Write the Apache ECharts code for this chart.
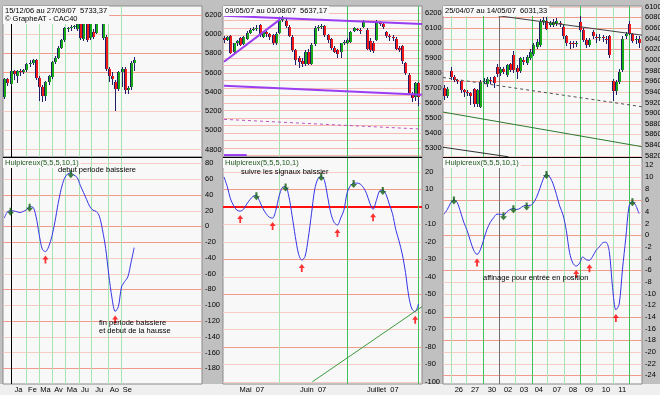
<!DOCTYPE html>
<html><head><meta charset="utf-8">
<script src="https://cdn.jsdelivr.net/npm/echarts@6/dist/echarts.min.js"></script>
<style>html,body{margin:0;padding:0;background:#c0c0c0;overflow:hidden}#c{width:660px;height:395px}</style>
</head><body><div id="c"></div>
<script>
// ---------- DATA ----------
// Top-left: weekly candles 15/12/06 -> 27/09/07 (x = week index)
const tlOpen  = [5350,5536,5484,5612,5560,5610,5605,5623,5690,5700,5727,5540,5450,5360,5500,5553,5705,5755,5856,5935,6050,6060,6070,6050,6127,5945,6110,5960,6025,6010,6125,5960,5970,5640,5560,5500,5430,5605,5640,5420,5450,5700];
const tlClose = [5536,5490,5612,5580,5610,5600,5625,5690,5700,5727,5540,5445,5360,5500,5560,5705,5755,5856,5935,6057,6060,6070,6085,6160,5955,6115,5940,6120,5965,6125,6130,6125,5640,5560,5530,5430,5605,5640,5420,5440,5700,5733];
const tlLow   = [5325,5460,5460,5520,5490,5560,5580,5600,5660,5680,5520,5300,5290,5300,5470,5530,5690,5740,5840,5920,6020,6030,6050,6035,5940,5930,5920,5940,5950,5995,6100,5940,5620,5500,5470,5200,5410,5450,5380,5380,5420,5620];
const tlHigh  = [5545,5545,5625,5630,5625,5640,5640,5700,5730,5740,5735,5560,5470,5510,5570,5720,5770,5870,5945,6070,6075,6090,6095,6175,6140,6125,6120,6135,6050,6135,6145,6150,5990,5660,5600,5520,5620,5660,5660,5460,5720,5760];
// Bottom-left oscillator (weekly)
const blOsc = [10.5,18.5,19.8,19.6,18.5,17.5,19,21,25,24.5,13,-10,-29,-32,-26,-13,6,29,48,61,66.5,67.5,65,62,52,43,34,25,20.5,19,13,-4.5,-28,-62,-91,-108,-102,-77,-70,-64,-46,-27];
const blPeaks = [2, 8, 21];
const blTroughs = [13, 35];
const blYearBound = [2.1];
const blMonthBounds = [6.85, 10.95, 15.05, 19.15, 23.55, 27.35, 32.7, 36.8];
const blMonthPos = [4.5, 8.9, 13.0, 17.1, 21.35, 25.45, 30.0, 34.75, 38.8];
const blMonthNames = ['Ja','Fe','Ma','Av','Ma','Ju','Ju','Ao','Se'];

// Top-middle: daily candles 09/05/07 -> 01/08/07 (x = trading day index)
const tmOpen  = [6030,6020,6047,5935,5995,6030,5990,6025,6067,6085,6092,6118,6040,6070,6055,6050,5995,6067,6150,6147,6107,6040,5950,5900,5880,5860,5940,5860,5990,6100,6105,6111,6050,6022,5962,5950,5935,5995,6000,6007,6080,6090,6085,6107,6085,6010,6000,6018,6130,6125,6070,6045,6040,6025,5965,5975,5862,5785,5660,5640,5730];
const tmClose = [6015,6035,5933,5995,6010,5985,6035,6065,6085,6092,6100,6050,6070,6055,6040,5995,6060,6150,6165,6110,6045,5950,5885,5870,5860,5940,5860,5985,6100,6105,6112,6050,6018,5962,5940,5925,5995,6005,6020,6073,6095,6088,6080,6140,5960,5950,5945,6130,6125,6105,6045,6040,6030,5960,5950,5875,5795,5667,5630,5730,5637];
const tmLow   = [6000,6010,5925,5920,5980,5975,5985,6015,6055,6075,6080,6040,6030,6040,6020,5985,5985,6055,6140,6100,6035,5940,5850,5830,5835,5845,5850,5850,5980,6080,6090,6040,6000,5950,5930,5900,5900,5985,5990,6000,6070,6075,6060,6100,5950,5940,5930,6010,6110,6090,6030,6010,6010,5950,5935,5860,5785,5655,5605,5610,5580];
const tmHigh  = [6045,6045,6050,6000,6020,6035,6045,6075,6095,6105,6115,6125,6080,6080,6065,6060,6070,6160,6175,6160,6115,6050,5960,5910,5895,5950,5960,5995,6110,6120,6125,6120,6060,6030,5975,5960,6000,6015,6030,6080,6105,6100,6095,6150,6095,6030,6010,6150,6145,6135,6080,6055,6050,6035,5975,5985,5870,5795,5670,5735,5735];
const tmRising  = [[0, 5873], [17.3, 6156]];
const tmTopLine = [[0, 6180], [61.1, 6125]];
const tmLowLine = [[0, 5713], [61.1, 5653]];
const tmDashed  = [[0, 5489], [61.1, 5424]];
const tmFrag    = [[0, 5251], [7, 5251]];
// Bottom-middle oscillator (daily)
const bmOsc = [17,11.5,4.5,0.5,-2,-2.5,-1.5,1.5,4,6,6.5,3,-1,-4,-6,-6.5,-2,6,11,11.5,6,-5,-17,-27,-30.5,-28.5,-18,-4,10,16,17.5,15,5.5,-4,-9,-10.5,-6.5,-2,8,12,13.5,13.5,13,11,7.5,2,-1.5,3.5,9,9.5,7,1.5,-4,-13,-19.5,-27,-37.5,-51,-58.5,-60,-55.5];
const bmPeaks = [10, 19, 30, 40, 49];
const bmTroughs = [5, 15, 24, 35, 46, 59];
const bmSupport = [[27.3, -100], [61.1, -57.1]];
const midLightBounds = [17];
const midDarkBounds = [38, 60];
const midMonthPos = [8.6, 27.5, 49.0];
const midMonthNames = ['Mai  07', 'Juin  07', 'Juillet  07'];

// Top-right: intraday candles 25/04/07 -> 14/05/07 (x = bar index)
const trOpen  = [5948,5932,5979,5967,5962,5960,5943,5940,5938,5945,5918,5912,5959,5955,5963,5968,5987,5975,5982,5972,5992,6009,5985,5980,6000,5995,6003,6012,6025,6028,6072,6074,6066,6066,6068,6070,6062,6044,6032,6031,6030,6072,6056,6038,6028,6052,6043,6042,6043,6040,6044,5960,5942,5959,5981,6044,6067,6048,6038,6039];
const trClose = [5932,5946,5967,5962,5960,5943,5940,5938,5932,5918,5944,5959,5961,5965,5960,5956,5973,5982,5978,5990,5981,5981,5978,6003,5996,6005,6015,6028,6034,6072,6075,6059,6070,6072,6074,6068,6044,6031,6030,6030,6032,6056,6037,6028,6038,6045,6042,6043,6041,6038,6009,5942,5958,5978,6040,6049,6049,6036,6040,6031];
const trLow   = [5925,5928,5962,5958,5955,5938,5930,5932,5915,5912,5912,5910,5955,5950,5955,5948,5968,5970,5974,5968,5978,5975,5965,5975,5990,5990,6000,6008,6020,6025,6066,6056,6062,6062,6064,6062,6040,6026,6020,6022,6024,6052,6034,6022,6025,6040,6032,6036,6034,6030,6004,5922,5935,5955,5978,6040,6046,6032,6030,6022];
const trHigh  = [5952,5950,5986,5972,5965,5962,5946,5944,5940,5948,5946,5962,5966,5968,5967,5970,5992,5986,5986,5993,5995,6016,5990,6005,6005,6010,6020,6032,6040,6076,6080,6080,6074,6076,6078,6074,6066,6046,6036,6036,6036,6082,6060,6042,6042,6056,6048,6048,6046,6044,6046,5964,5962,5982,6044,6052,6074,6050,6045,6044];
const trResist = [[16.4, 6083], [59.9, 6046.5]];
const trDotted = [[-0.3, 5967], [59.9, 5912]];
const trGreen  = [[-0.3, 5902], [59.9, 5837]];
const trLowLn  = [[-0.3, 5836], [19.5, 5818]];
// Bottom-right oscillator
const brOsc = [3.6,4.4,5.5,6.1,5.6,4.0,2.2,0.8,-1.0,-2.6,-3.3,-2.5,-0.8,1.0,2.2,3.0,3.6,3.6,3.4,4.0,4.4,4.6,4.4,4.6,5.0,5.1,5.1,5.5,6.5,8.0,9.6,10.5,10.0,8.8,7.0,5.0,3.5,0.8,-3.0,-4.8,-5.3,-4.8,-3.7,-4.2,-4.3,-3.6,-2.6,-2.0,-1.3,-1.2,-2.8,-9.0,-12.8,-11.8,-5.8,-0.5,5.0,5.8,5.1,3.7];
const brPeaks = [3, 18, 21, 25, 31, 57];
const brTroughs = [10, 40, 44, 52];
const brLightBounds = [2.0, 6.65, 21.45, 31.2, 36.3, 46.1, 51.2];
const brDarkBounds = [11.7, 26.5, 41.1, 56.0];
const brMonthBound = [16.7];
const brDayPos = [4.5, 9.4, 14.5, 19.4, 24.2, 28.7, 34.2, 39.0, 43.9, 49.0, 53.9];
const brDayNames = ['26','27','30','02','03','04','07','08','09','10','11'];

// Y tick labels
const tlTicks = [4800,5000,5200,5400,5600,5800,6000,6200];
const tmTicks = [5300,5400,5500,5600,5700,5800,5900,6000,6100,6200];
const trTicks = [5820,5840,5860,5880,5900,5920,5940,5960,5980,6000,6020,6040,6060,6080,6100];
const blTicks = [-180,-160,-140,-120,-100,-80,-60,-40,-20,0,20,40,60,80];
const bmTicks = [-100,-90,-80,-70,-60,-50,-40,-30,-20,-10,0,10,20];
const brTicks = [-24,-22,-20,-18,-16,-14,-12,-10,-8,-6,-4,-2,0,2,4,6,8,10,12];
// Horizontal grid lines
const tlDark = [6200,5800,5600], tlLight = [6000,5400,5200,5000,4800];
const tmGridLines = [5250,5300,5350,5400,5450,5500,5550,5600,5650,5700,5750,5800,5850,5900,5950,6000,6050,6100,6150,6200];
const trDark = [6080,6060,6020,5960], trLight = [6100,6040,6000,5980,5940,5920,5900,5880,5860,5840,5820];
const blDark = [40,0,-20,-80,-120,-180], blLight = [80,60,20,-40,-60,-100,-140,-160];
const bmZero = [0], bmDark = [10,-30,-50,-80], bmLight = [20,-10,-20,-40,-60,-70,-90,-100];
const brDark = [6,0,-6,-14,-18,-24], brLight = [12,10,8,4,2,-2,-4,-8,-10,-12,-16,-20,-22];

// ---------- HELPERS ----------
const FONT = '"Liberation Sans", Arial, sans-serif';
const FS = 7.5;
const C_DARK = '#f29a8c', C_LIGHT = '#f8cbc4', C_MID = '#f6bcb3';
const G_LIGHT = '#a6e3b0', G_DARK = '#3ec25c';

function hLines(gi, values, color, width) {
  return {
    type: 'custom', xAxisIndex: gi, yAxisIndex: gi, silent: true, z: 1, clip: true, animation: false,
    data: values.map(v => [0, v]),
    renderItem(params, api) {
      const cs = params.coordSys;
      const y = Math.round(api.coord([0, api.value(1)])[1]) + (width % 2 ? 0.5 : 0);
      return {type: 'line', shape: {x1: cs.x, y1: y, x2: cs.x + cs.width, y2: y}, style: {stroke: color, lineWidth: width}};
    }
  };
}
function vLines(gi, values, color, width) {
  return {
    type: 'custom', xAxisIndex: gi, yAxisIndex: gi, silent: true, z: 1, clip: true, animation: false,
    data: values.map(v => [v, 0]),
    renderItem(params, api) {
      const cs = params.coordSys;
      const x = Math.round(api.coord([api.value(0), 0])[0]) + 0.5;
      return {type: 'line', shape: {x1: x, y1: cs.y, x2: x, y2: cs.y + cs.height}, style: {stroke: color, lineWidth: width}};
    }
  };
}
function candleItem(params, api) {
  const x = api.value(0), o = api.value(1), c = api.value(2), lo = api.value(3), hi = api.value(4);
  const pO = api.coord([x, o]), pC = api.coord([x, c]);
  const yL = api.coord([x, lo])[1], yH = api.coord([x, hi])[1];
  const px = Math.round(pO[0]);
  const top = Math.round(Math.min(pO[1], pC[1]));
  const h = Math.max(1, Math.round(Math.max(pO[1], pC[1])) - top);
  const up = c >= o;
  return {type: 'group', children: [
    {type: 'line', shape: {x1: px + 0.5, y1: Math.round(yH), x2: px + 0.5, y2: Math.round(yL)}, style: {stroke: '#1e1e66', lineWidth: 1}},
    {type: 'rect', shape: {x: px - 1, y: top, width: 3, height: h}, style: {fill: up ? '#18a818' : '#f01818'}},
    {type: 'line', shape: {x1: px - 0.5, y1: top, x2: px - 0.5, y2: top + h}, style: {stroke: '#1e1e66', lineWidth: 1}}
  ]};
}
function candles(gi, o, c, l, h) {
  return {type: 'custom', xAxisIndex: gi, yAxisIndex: gi, z: 3, clip: true, silent: true, animation: false,
    data: o.map((v, i) => [i, o[i], c[i], l[i], h[i]]), renderItem: candleItem};
}
function seg(gi, pts, color, width, type) {
  return {type: 'line', xAxisIndex: gi, yAxisIndex: gi, data: pts, symbol: 'none', silent: true, z: 4,
    lineStyle: {color: color, width: width, type: type || 'solid'}, animation: false};
}
function osc(gi, vals) {
  return {type: 'line', xAxisIndex: gi, yAxisIndex: gi, data: vals.map((v, i) => [i, v]), symbol: 'none',
    smooth: 0.3, silent: true, z: 3, lineStyle: {color: '#3434e6', width: 1}, animation: false};
}
const ARROW_UP = 'path://M5,0L10,6L6.5,6L6.5,12L3.5,12L3.5,6L0,6Z';
const ARROW_DN = 'path://M3.5,0L6.5,0L6.5,6L10,6L5,12L0,6L3.5,6Z';
function peaks(gi, vals, idx) {
  return {type: 'scatter', xAxisIndex: gi, yAxisIndex: gi, data: idx.map(i => [i, vals[i]]), symbol: ARROW_DN,
    symbolSize: [7, 8], symbolOffset: [0, 1], itemStyle: {color: '#0d5c0d'}, silent: true, z: 5, animation: false};
}
function troughs(gi, vals, idx) {
  return {type: 'scatter', xAxisIndex: gi, yAxisIndex: gi, data: idx.map(i => [i, vals[i]]), symbol: ARROW_UP,
    symbolSize: [6, 8], symbolOffset: [0, 8], itemStyle: {color: '#ff0000'}, silent: true, z: 5, animation: false};
}
function grid(left, top, width, height) {
  return {left, top, width, height, show: true, backgroundColor: '#f8f8f8', borderColor: '#8a8a8a', borderWidth: 1,
    containLabel: false, outerBoundsMode: 'none'};
}
function xAx(gi, min, max, pos, names) {
  const a = {type: 'value', gridIndex: gi, min, max, axisLine: {show: false}, axisTick: {show: false}, splitLine: {show: false},
    axisLabel: {show: false}};
  if (pos) {
    a.axisLabel = {show: true, customValues: pos, formatter: v => names[pos.indexOf(v)] || '', fontSize: FS, fontFamily: FONT,
      color: '#000', margin: 2};
  }
  return a;
}
function yAx(gi, min, max, ticks) {
  return {type: 'value', gridIndex: gi, min, max, position: 'right', axisLine: {show: false}, axisTick: {show: false},
    splitLine: {show: false},
    axisLabel: {customValues: ticks, formatter: v => String(v), fontSize: FS, fontFamily: FONT, color: '#000', margin: 3, align: 'left'}};
}
function ttl(text, left, top, color) {
  return {text, left, top, padding: [1, 2, 1, 2], backgroundColor: '#f8f8f8',
    textStyle: {fontSize: FS, fontWeight: 'normal', color: color || '#000', fontFamily: FONT, lineHeight: 8}};
}
function note(text, x, y) {
  return {type: 'text', x, y, z: 100, silent: true,
    style: {text, font: FS + 'px ' + FONT, fill: '#000', verticalAlign: 'middle', align: 'left'}};
}
function sep(x1, x2) {
  return {type: 'line', z: 100, silent: true, shape: {x1, y1: 157.5, x2, y2: 157.5}, style: {stroke: '#000', lineWidth: 1}};
}

// ---------- OPTION ----------
const chart = echarts.init(document.getElementById('c'), null, {renderer: 'canvas'});
const option = {
  animation: false,
  backgroundColor: 'transparent',
  grid: [grid(3, 6, 199, 151), grid(223, 6, 199, 151), grid(443, 6, 199, 151),
         grid(3, 157, 199, 227), grid(223, 157, 199, 227), grid(443, 157, 199, 227)],
  xAxis: [xAx(0, -0.4, 62.4), xAx(1, -0.31, 61.1), xAx(2, -0.3, 59.9),
          xAx(3, -0.4, 62.4, blMonthPos, blMonthNames), xAx(4, -0.31, 61.1, midMonthPos, midMonthNames),
          xAx(5, -0.3, 59.9, brDayPos, brDayNames)],
  yAxis: [yAx(0, 4722, 6290, tlTicks), yAx(1, 5238, 6245, tmTicks), yAx(2, 5817.6, 6101.3, trTicks),
          yAx(3, -200, 88, blTicks), yAx(4, -101.3, 28.4, bmTicks), yAx(5, -25.5, 13.4, brTicks)],
  title: [
    ttl('15/12/06 au 27/09/07  5733,37\n\u00a9 GrapheAT - CAC40', 3, 6),
    ttl('09/05/07 au 01/08/07  5637,17', 223, 6),
    ttl('25/04/07 au 14/05/07  6031,33', 443, 6),
    ttl('Hulpicreux(5,5,5,10,1)', 3, 158, '#1e5a1e'),
    ttl('Hulpicreux(5,5,5,10,1)', 223, 158, '#1e5a1e'),
    ttl('Hulpicreux(5,5,5,10,1)', 443, 158, '#1e5a1e')
  ],
  graphic: [
    {type: 'rect', z: -10, silent: true, shape: {x: 0, y: 384, width: 660, height: 11}, style: {fill: '#efefef'}},
    sep(3, 202), sep(223, 422), sep(443, 642),
    note('debut periode baissiere', 58, 169.5),
    note('fin periode baissiere', 99, 323),
    note('et debut de la hausse', 99, 331),
    note('suivre les signaux baissier', 241, 172),
    note('affinage pour entr\u00e9e en position', 483, 278)
  ],
  series: [
    // top-left
    hLines(0, tlLight, C_LIGHT, 1), hLines(0, tlDark, C_DARK, 1),
    vLines(0, blMonthBounds, G_LIGHT, 1), vLines(0, blYearBound, '#000', 1),
    candles(0, tlOpen, tlClose, tlLow, tlHigh),
    // top-middle
    hLines(1, tmGridLines, C_MID, 1),
    vLines(1, midLightBounds, G_LIGHT, 1), vLines(1, midDarkBounds, G_DARK, 1),
    candles(1, tmOpen, tmClose, tmLow, tmHigh),
    seg(1, tmRising, '#9a3cf2', 2), seg(1, tmTopLine, '#9a3cf2', 2), seg(1, tmLowLine, '#9a3cf2', 2),
    seg(1, tmDashed, '#c050c0', 1, [3, 3]), seg(1, tmFrag, '#9a3cf2', 2),
    // top-right
    hLines(2, trLight, C_LIGHT, 1), hLines(2, trDark, C_DARK, 1),
    vLines(2, brLightBounds, G_LIGHT, 1), vLines(2, brDarkBounds, G_DARK, 1), vLines(2, brMonthBound, '#707070', 1),
    candles(2, trOpen, trClose, trLow, trHigh),
    seg(2, trResist, '#404040', 1), seg(2, trDotted, '#505050', 1, [3, 3]),
    seg(2, trGreen, '#2e7a2e', 1), seg(2, trLowLn, '#303030', 1),
    // bottom-left
    hLines(3, blLight, C_LIGHT, 1), hLines(3, blDark, C_DARK, 1),
    vLines(3, blMonthBounds, G_LIGHT, 1), vLines(3, blYearBound, '#000', 1),
    osc(3, blOsc), peaks(3, blOsc, blPeaks), troughs(3, blOsc, blTroughs),
    // bottom-middle
    hLines(4, bmLight, C_LIGHT, 1), hLines(4, bmDark, C_DARK, 1), hLines(4, bmZero, '#ff1010', 2),
    vLines(4, midLightBounds, G_LIGHT, 1), vLines(4, midDarkBounds, G_DARK, 1),
    seg(4, bmSupport, '#3c9a3c', 1),
    osc(4, bmOsc), peaks(4, bmOsc, bmPeaks), troughs(4, bmOsc, bmTroughs),
    // bottom-right
    hLines(5, brLight, C_LIGHT, 1), hLines(5, brDark, C_DARK, 1),
    vLines(5, brLightBounds, G_LIGHT, 1), vLines(5, brDarkBounds, G_DARK, 1), vLines(5, brMonthBound, '#707070', 1),
    osc(5, brOsc), peaks(5, brOsc, brPeaks), troughs(5, brOsc, brTroughs)
  ]
};
chart.setOption(option);
</script></body></html>
